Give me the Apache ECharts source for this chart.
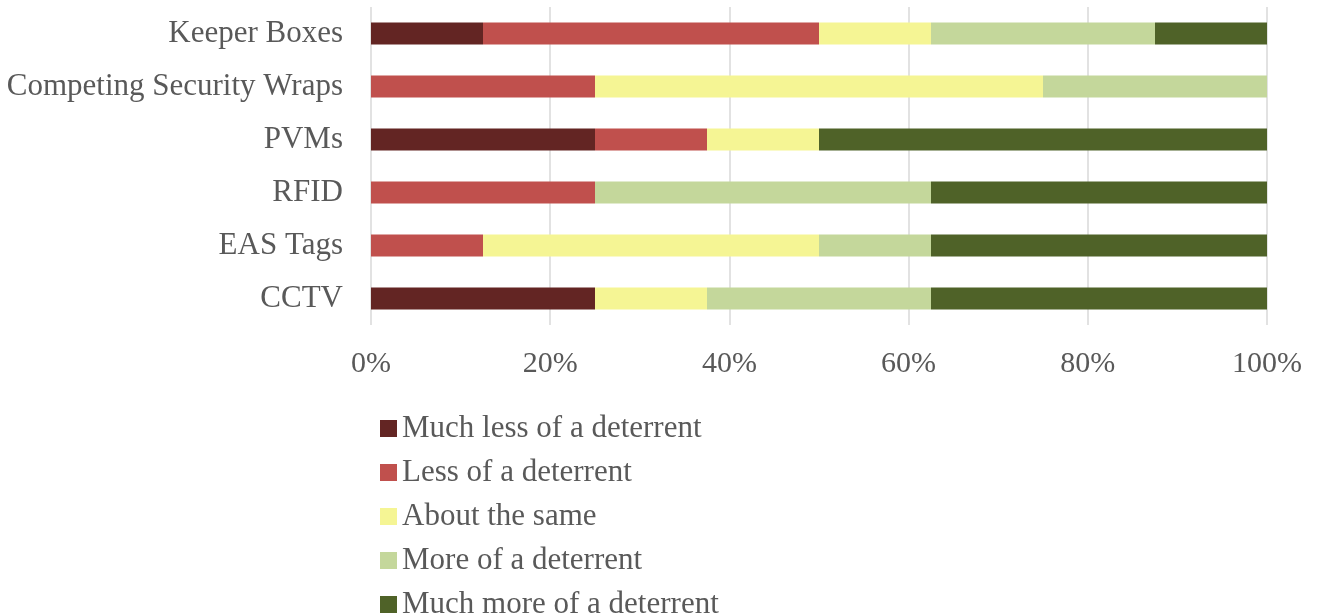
<!DOCTYPE html>
<html><head><meta charset="utf-8">
<script src="https://cdn.jsdelivr.net/npm/echarts@6/dist/echarts.min.js"></script>
<style>html,body{margin:0;padding:0;background:#fff}#c{width:1317px;height:616px}</style>
</head><body><div id="c"></div>
<script>
const categories = ["CCTV", "EAS Tags", "RFID", "PVMs", "Competing Security Wraps", "Keeper Boxes"];
const seriesNames = ["Much less of a deterrent", "Less of a deterrent", "About the same", "More of a deterrent", "Much more of a deterrent"];
const muchLess = [25, 0, 0, 25, 0, 12.5];
const less = [0, 12.5, 25, 12.5, 25, 37.5];
const same = [12.5, 37.5, 0, 12.5, 50, 12.5];
const more = [25, 12.5, 37.5, 0, 25, 25];
const muchMore = [37.5, 37.5, 37.5, 50, 0, 12.5];
const tickLabels = ["0%", "20%", "40%", "60%", "80%", "100%"];
const colors = ["#632523", "#C0504D", "#F5F594", "#C4D79B", "#4F6228"];

const values = [muchLess, less, same, more, muchMore];
const font = "'Liberation Serif', 'DejaVu Serif', serif";
const chart = echarts.init(document.getElementById('c'));
chart.setOption({
  animation: false,
  textStyle: {fontFamily: font},
  grid: {left: 371, right: 50, top: 7, bottom: 291, containLabel: false},
  xAxis: {
    type: 'value', min: 0, max: 100, interval: 20,
    axisLine: {show: false}, axisTick: {show: false},
    splitLine: {lineStyle: {color: '#d9d9d9', width: 1.5}},
    axisLabel: {color: '#595959', fontSize: 30, fontFamily: font, margin: 24,
      formatter: v => tickLabels[Math.round(v / 20)]}
  },
  yAxis: {
    type: 'category', data: categories,
    axisLine: {show: false}, axisTick: {show: false},
    axisLabel: {color: '#595959', fontSize: 31, fontFamily: font, margin: 28, padding: [4, 0, 0, 0]}
  },
  legend: {
    orient: 'vertical', left: 375, top: 408, height: 300, itemGap: 13, itemWidth: 17, itemHeight: 17,
    icon: 'rect', textStyle: {color: '#595959', fontSize: 31, lineHeight: 31, fontFamily: font},
    data: seriesNames
  },
  series: seriesNames.map((n, i) => ({
    name: n, type: 'bar', stack: 'total', barWidth: 22,
    itemStyle: {color: colors[i]},
    data: values[i]
  }))
});
</script></body></html>
